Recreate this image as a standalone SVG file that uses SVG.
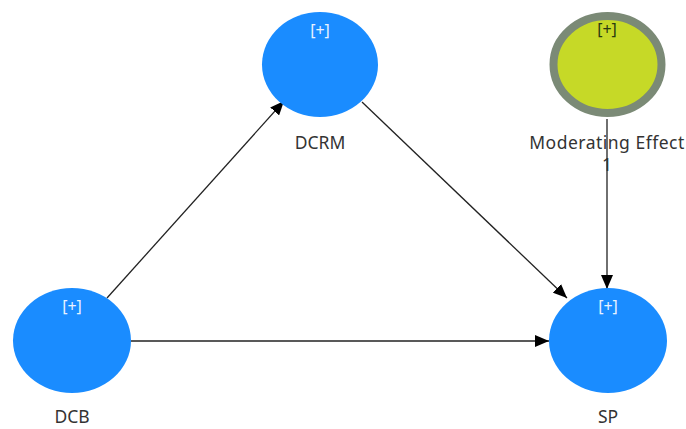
<svg xmlns="http://www.w3.org/2000/svg" width="686" height="429" viewBox="0 0 686 429">
<defs>
<marker id="ah" markerWidth="14" markerHeight="12" refX="14" refY="6" orient="auto" markerUnits="userSpaceOnUse">
<path d="M0,0 L14,6 L0,12 Z" fill="#000"/>
</marker>
<style>
.lv{fill:#1a8cff;}
.mod{fill:#c6d927;stroke:#7b8a76;stroke-width:8;}
.lbl{font-family:"Noto Sans","Open Sans","DejaVu Sans",sans-serif;font-size:17.5px;fill:#333;text-anchor:middle;}
.wide{letter-spacing:0.5px;}
.plus{font-family:"Noto Sans","DejaVu Sans",sans-serif;font-size:16px;fill:#e8f2ff;text-anchor:middle;}
.plusd{font-family:"Noto Sans","DejaVu Sans",sans-serif;font-size:16px;fill:#2a3a10;text-anchor:middle;}
.edge{stroke:#222;stroke-width:1.3;fill:none;marker-end:url(#ah);}
</style>
</defs>
<rect width="686" height="429" fill="#fff"/>
<g id="connectors">
<line class="edge" x1="107" y1="298" x2="284" y2="101"/>
<line class="edge" x1="362" y1="102" x2="567" y2="298"/>
<line class="edge" x1="131" y1="341" x2="549" y2="341"/>
<line class="edge" x1="607" y1="119" x2="607" y2="289"/>
</g>
<g id="DCRM">
<ellipse class="lv" cx="320" cy="64.5" rx="58" ry="52.5"/>
<text class="plus" x="320" y="36">[+]</text>
<text class="lbl" x="320" y="149">DCRM</text>
</g>
<g id="ModeratingEffect1">
<ellipse class="mod" cx="607.5" cy="64.5" rx="54" ry="48.5"/>
<text class="plusd" x="607" y="35">[+]</text>
<text class="lbl wide" x="607" y="149">Moderating Effect</text>
<text class="lbl" x="607" y="171">1</text>
</g>
<g id="DCB">
<ellipse class="lv" cx="72" cy="340.5" rx="59" ry="52.5"/>
<text class="plus" x="72" y="312">[+]</text>
<text class="lbl" x="72" y="423">DCB</text>
</g>
<g id="SP">
<ellipse class="lv" cx="608" cy="340.5" rx="59" ry="52.5"/>
<text class="plus" x="608" y="312">[+]</text>
<text class="lbl" x="608" y="423">SP</text>
</g>
</svg>
